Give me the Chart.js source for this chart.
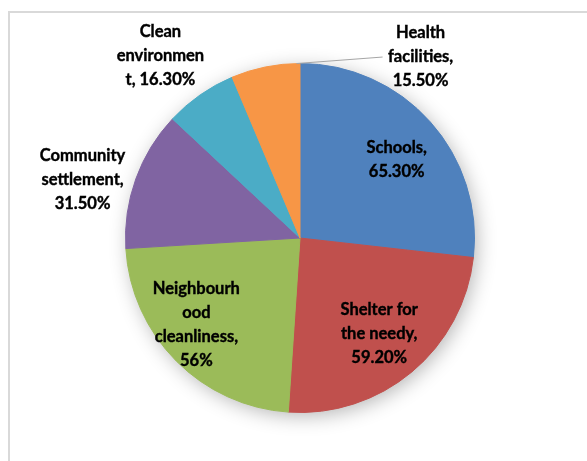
<!DOCTYPE html>
<html>
<head>
<meta charset="utf-8">
<script src="https://cdn.jsdelivr.net/npm/chart.js@4.4.1/dist/chart.umd.min.js"></script>
<style>
  html, body { margin: 0; padding: 0; background: #fff; }
  #wrap { width: 587px; height: 461px; }
</style>
</head>
<body>
<div id="wrap"><canvas id="chart--pie" width="587" height="461"></canvas></div>
<script>
const categories = [
    'Schools',
    'Shelter for the needy',
    'Neighbourhood cleanliness',
    'Community settlement',
    'Clean environment',
    'Health facilities'
];
const values = [65.3, 59.2, 56, 31.5, 16.3, 15.5];
// data labels as Excel wrapped them
const labelLines = [
    ['Schools,', '65.30%'],
    ['Shelter for', 'the needy,', '59.20%'],
    ['Neighbourh', 'ood', 'cleanliness,', '56%'],
    ['Community', 'settlement,', '31.50%'],
    ['Clean', 'environmen', 't, 16.30%'],
    ['Health', 'facilities,', '15.50%']
];
const colors = ['#4F81BD', '#C0504D', '#9BBB59', '#8064A2', '#4BACC6', '#F79646'];

// where each label block sits, relative to pie centre, in radius units
const labelAt = [
    [0.554, -0.449],
    [0.454, 0.546],
    [-0.594, 0.497],
    [-1.246, -0.334],
    [-0.80, -1.043],
    [0.691, -1.037]
];

const framePlugin = {
    id: 'frame',
    beforeDraw(chart) {
        const ctx = chart.ctx;
        ctx.save();
        ctx.fillStyle = '#fff';
        ctx.fillRect(0, 0, chart.width, chart.height);
        ctx.strokeStyle = '#d9d9d9';
        ctx.lineWidth = 2;
        ctx.strokeRect(9, 12, chart.width + 20, chart.height + 20);
        ctx.restore();
    },
    beforeDatasetsDraw(chart) {
        // soft shadow under the pie
        const arc = chart.getDatasetMeta(0).data[0];
        if (!arc) return;
        const ctx = chart.ctx;
        ctx.save();
        ctx.shadowColor = 'rgba(0,0,0,0.3)';
        ctx.shadowBlur = 20;
        ctx.shadowOffsetX = 3;
        ctx.shadowOffsetY = 4;
        ctx.fillStyle = '#fff';
        ctx.beginPath();
        ctx.arc(arc.x, arc.y, arc.outerRadius - 1, 0, Math.PI * 2);
        ctx.fill();
        ctx.restore();
    }
};

const labelPlugin = {
    id: 'pieLabels',
    afterDatasetsDraw(chart) {
        const ctx = chart.ctx;
        const meta = chart.getDatasetMeta(0);
        const lh = 24;
        ctx.save();
        ctx.font = 'bold 16.5px Lato, "Open Sans", sans-serif';
        ctx.fillStyle = '#000';
        ctx.strokeStyle = '#000';
        ctx.lineWidth = 0.4;
        ctx.textAlign = 'center';
        ctx.textBaseline = 'middle';
        meta.data.forEach(function (arc, i) {
            const r = arc.outerRadius;
            const cx = arc.x + labelAt[i][0] * r;
            const cy = arc.y + labelAt[i][1] * r;
            const lines = labelLines[i];
            const top = cy - (lines.length - 1) * lh / 2;
            lines.forEach(function (t, k) {
                ctx.fillText(t, cx, top + k * lh);
                ctx.strokeText(t, cx, top + k * lh);
            });
            if (i === 5) {
                // leader line for the health slice
                const a = arc.endAngle - 0.02;
                ctx.strokeStyle = '#a6a6a6';
                ctx.lineWidth = 1;
                ctx.beginPath();
                ctx.moveTo(arc.x + Math.cos(a) * r, arc.y + Math.sin(a) * r);
                ctx.lineTo(cx - 38, top + lh);
                ctx.stroke();
            }
        });
        ctx.restore();
    }
};

const config_pie = {
    type: 'pie',
    data: {
        labels: categories,
        datasets: [{
            data: values,
            backgroundColor: colors,
            borderColor: colors,
            borderWidth: 1
        }]
    },
    options: {
        responsive: false,
        animation: false,
        layout: {
            padding: { top: 63, bottom: 48, left: 125, right: 112 }
        },
        plugins: {
            legend: { display: false },
            tooltip: { enabled: false }
        }
    },
    plugins: [framePlugin, labelPlugin]
};
var chartpie = new Chart(
    document.getElementById('chart--pie'),
    config_pie
);
</script>
</body>
</html>
